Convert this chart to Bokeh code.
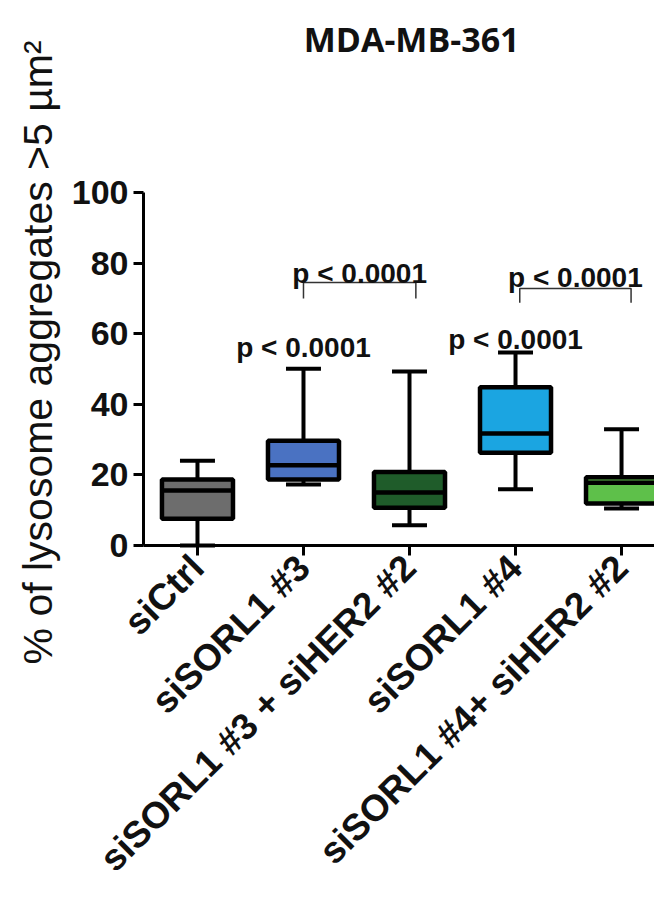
import math
from bokeh.plotting import figure
from bokeh.models import Range1d, FixedTicker, ColumnDataSource
from bokeh.core.properties import value
from bokeh.embed import file_html
from bokeh.resources import INLINE

# ---- data ----
categories = ["siCtrl", "siSORL1 #3", "siSORL1 #3 + siHER2 #2", "siSORL1 #4", "siSORL1 #4+ siHER2 #2"]
lower = [0.0, 17.3, 5.7, 15.9, 10.5]
q1 = [7.6, 18.7, 10.7, 26.3, 11.9]
median = [15.6, 22.7, 15.0, 31.7, 17.8]
q3 = [18.7, 29.7, 20.8, 44.8, 19.3]
upper = [24.0, 50.1, 49.3, 54.7, 32.9]
colors = ["#6d6d6d", "#4a72c2", "#1f5c2a", "#1ba5e1", "#5ec04a"]
yticks = [0, 20, 40, 60, 80, 100]

# significance annotations
sig_x = [1, 3]
sig_text = ["p < 0.0001", "p < 0.0001"]
sig_y = [56, 58.4]
bracket_x0 = [1.0, 3.04]
bracket_x1 = [2.06, 4.09]
bracket_top = [74.5, 72.8]
bracket_bottom = [70.0, 68.8]
bracket_text_y = [77.0, 75.9]

title_text = ["MDA-MB-361"]
title_x = [2.02]
title_y = [143.6]
ylabel_text = ["% of lysosome aggregates >5 µm²"]
ylabel_x = [-1.5]
ylabel_y = [54.7]

xs = list(range(len(categories)))
box_w = 0.67
cap_w = 0.33
x_axis_start = -0.509
x_axis_end = 4.311

p = figure(width=654, height=888, output_backend="svg", toolbar_location=None,
           x_range=Range1d(-1.858, x_axis_end), y_range=Range1d(-97.17, 154.39),
           min_border_left=0, min_border_right=0, min_border_top=0, min_border_bottom=0)
p.outline_line_color = None
p.xgrid.visible = False
p.ygrid.visible = False
p.background_fill_color = "white"
p.border_fill_color = "white"

src = ColumnDataSource(dict(x=xs, lower=lower, q1=q1, median=median, q3=q3, upper=upper, color=colors,
                            cl=[x - cap_w / 2 for x in xs], cr=[x + cap_w / 2 for x in xs],
                            bl=[x - box_w / 2 for x in xs], br=[x + box_w / 2 for x in xs]))

# whiskers
p.segment(x0="x", y0="lower", x1="x", y1="q1", source=src, line_color="black", line_width=4)
p.segment(x0="x", y0="q3", x1="x", y1="upper", source=src, line_color="black", line_width=4)
p.segment(x0="cl", y0="lower", x1="cr", y1="lower", source=src, line_color="black", line_width=4)
p.segment(x0="cl", y0="upper", x1="cr", y1="upper", source=src, line_color="black", line_width=4)
# boxes
p.quad(left="bl", right="br", bottom="q1", top="q3", source=src, fill_color="color",
       line_color="black", line_width=4.5)
# medians
p.segment(x0="bl", y0="median", x1="br", y1="median", source=src, line_color="black", line_width=4.5)

# brackets
for i in range(len(bracket_x0)):
    p.line([bracket_x0[i], bracket_x0[i], bracket_x1[i], bracket_x1[i]],
           [bracket_bottom[i], bracket_top[i], bracket_top[i], bracket_bottom[i]],
           line_color="#333333", line_width=1.5)

p.text(x=[(a + b) / 2 for a, b in zip(bracket_x0, bracket_x1)], y=bracket_text_y,
       text=sig_text, text_font=value("Liberation Sans"), text_font_style="bold",
       text_font_size="28px", text_align="center", text_baseline="alphabetic", text_color="#111111")
p.text(x=sig_x, y=sig_y, text=sig_text, text_font=value("Liberation Sans"), text_font_style="bold",
       text_font_size="28px", text_align="center", text_baseline="alphabetic", text_color="#111111")

# title
p.text(x=title_x, y=title_y, text=title_text, text_font=value("Open Sans"), text_font_style="bold",
       text_font_size="34px", text_align="center", text_baseline="alphabetic", text_color="#111111")

# y-axis title
p.text(x=ylabel_x, y=ylabel_y, text=ylabel_text, angle=math.pi / 2, text_font=value("Liberation Sans"),
       text_font_size="41px", text_align="center", text_baseline="middle", text_color="#111111")

# axes
xa = p.xaxis[0]
xa.fixed_location = 0
xa.bounds = (x_axis_start, x_axis_end)
xa.ticker = FixedTicker(ticks=xs)
xa.major_label_overrides = {i: c for i, c in enumerate(categories)}
xa.major_label_orientation = math.pi / 4
xa.major_label_text_font = "Liberation Sans"
xa.major_label_text_font_style = "bold"
xa.major_label_text_font_size = "37px"
xa.major_label_text_color = "#111111"
xa.major_label_standoff = 6
xa.axis_line_width = 3
xa.axis_line_color = "black"
xa.major_tick_line_width = 3
xa.major_tick_out = 10
xa.major_tick_in = 0
xa.minor_tick_line_color = None

ya = p.yaxis[0]
ya.fixed_location = x_axis_start
ya.bounds = (0, 100)
ya.ticker = FixedTicker(ticks=yticks)
ya.major_label_text_font = "Liberation Sans"
ya.major_label_text_font_style = "bold"
ya.major_label_text_font_size = "34px"
ya.major_label_text_color = "#111111"
ya.major_label_standoff = 5
ya.axis_line_width = 3
ya.axis_line_color = "black"
ya.major_tick_line_width = 3
ya.major_tick_out = 10
ya.major_tick_in = 0
ya.minor_tick_line_color = None

open("out.html", "w").write(file_html(p, INLINE))
